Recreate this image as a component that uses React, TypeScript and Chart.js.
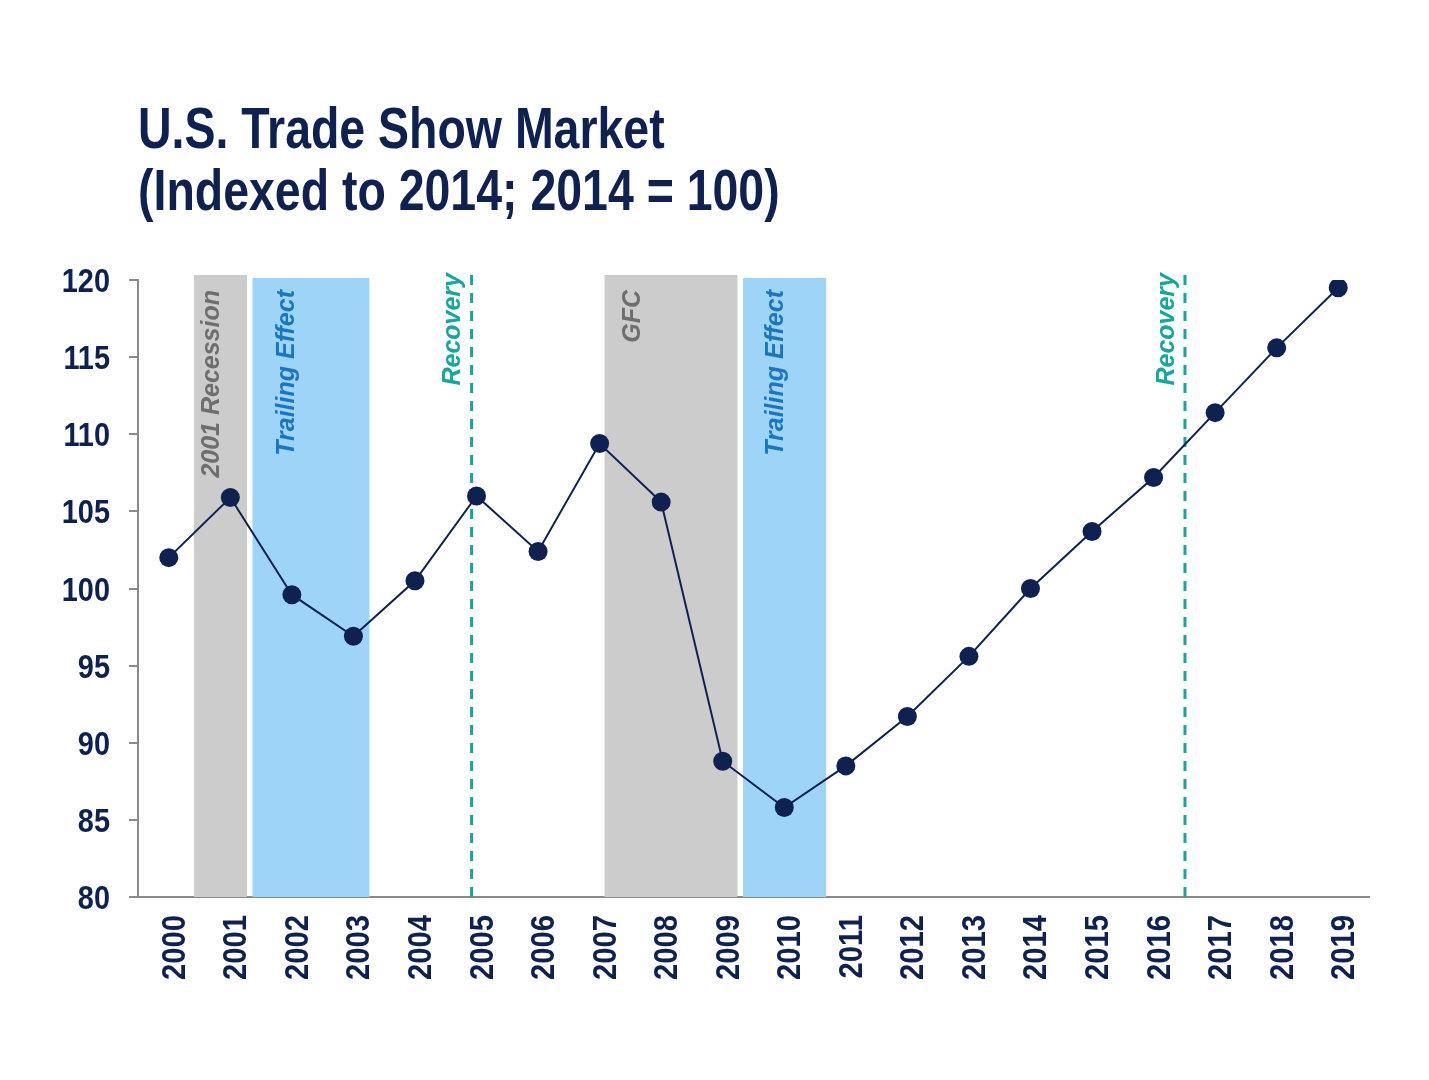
import React, { useEffect, useRef } from 'react';
import { Chart, registerables } from 'chart.js';

Chart.register(...registerables);

const years = ['2000', '2001', '2002', '2003', '2004', '2005', '2006', '2007', '2008', '2009',
    '2010', '2011', '2012', '2013', '2014', '2015', '2016', '2017', '2018', '2019'];
const indexValues = [102.0, 105.9, 99.6, 96.9, 100.5, 106.0, 102.4, 109.4, 105.6, 88.8,
    85.8, 88.5, 91.7, 95.6, 100.0, 103.7, 107.2, 111.4, 115.6, 119.5];

// shaded periods, in category units (0 = 2000)
const bandLabels = ['2001 Recession', 'Trailing Effect', 'GFC', 'Trailing Effect'];
const bandStarts = [0.41, 1.36, 7.08, 9.33];
const bandEnds = [1.27, 3.26, 9.24, 10.68];
const bandKinds = ['gray', 'blue', 'gray', 'blue'];
const recoveryAt = [4.92, 16.51];

const NAVY = '#0f2150';
const SANS = '"Liberation Sans", Arial, sans-serif';
const TICK_FONT = 'bold 34px ' + SANS;

// where the label sits inside its band (fraction of an x category step)
const labelShift = [0.29, 0.57, 0.47, 0.54];

const periodsPlugin = {
    id: 'periods',
    beforeDatasetsDraw(chart: any) {
        const { ctx, chartArea, scales } = chart;
        const x = scales.x;
        const bottom = chartArea.bottom;
        ctx.save();
        bandStarts.forEach((s, i) => {
            const x0 = x.getPixelForValue(s);
            const x1 = x.getPixelForValue(bandEnds[i]);
            const top = chartArea.top - (bandKinds[i] === 'gray' ? 5 : 2);
            ctx.fillStyle = bandKinds[i] === 'gray' ? '#cccccc' : '#9fd4f9';
            ctx.fillRect(x0, top, x1 - x0, bottom - top);
        });
        ctx.font = 'italic bold 25px ' + SANS;
        ctx.textAlign = 'right';
        ctx.textBaseline = 'middle';
        bandStarts.forEach((s, i) => {
            const lx = x.getPixelForValue(s + labelShift[i]);
            ctx.save();
            ctx.translate(lx, chartArea.top + 10);
            ctx.rotate(-Math.PI / 2);
            ctx.fillStyle = bandKinds[i] === 'gray' ? '#6e6e6e' : '#1b76c2';
            ctx.fillText(bandLabels[i], 0, 0);
            ctx.restore();
        });
        recoveryAt.forEach((r) => {
            const rx = x.getPixelForValue(r);
            ctx.save();
            ctx.strokeStyle = '#14a89a';
            ctx.lineWidth = 3;
            ctx.setLineDash([10, 8]);
            ctx.beginPath();
            ctx.moveTo(rx, chartArea.top - 5);
            ctx.lineTo(rx, bottom);
            ctx.stroke();
            ctx.restore();
            ctx.save();
            ctx.translate(rx - 18, chartArea.top - 7);
            ctx.rotate(-Math.PI / 2);
            ctx.fillStyle = '#14a89a';
            ctx.fillText('Recovery', 0, 0);
            ctx.restore();
        });
        ctx.restore();
    },
};

// condensed tick labels, placed from the scales' own ticks
const condensedTicksPlugin = {
    id: 'condensedTicks',
    afterDraw(chart: any) {
        const { ctx, chartArea, scales } = chart;
        ctx.save();
        ctx.font = TICK_FONT;
        ctx.fillStyle = NAVY;
        ctx.textBaseline = 'alphabetic';
        ctx.textAlign = 'right';
        scales.y.ticks.forEach((t: any, i: number) => {
            const py = scales.y.getPixelForTick(i);
            ctx.save();
            ctx.translate(110, py + 12);
            ctx.scale(0.85, 1);
            ctx.fillText(String(t.label), 0, 0);
            ctx.restore();
        });
        scales.x.ticks.forEach((t: any, i: number) => {
            const px = scales.x.getPixelForTick(i);
            ctx.save();
            ctx.translate(px + 16, chartArea.bottom + 18);
            ctx.rotate(-Math.PI / 2);
            ctx.scale(0.86, 1);
            ctx.fillText(String(t.label), 0, 0);
            ctx.restore();
        });
        ctx.restore();
    },
};

const TradeShowChart: React.FC = () => {
    const canvasRef = useRef<HTMLCanvasElement>(null);

    useEffect(() => {
        if (!canvasRef.current) return;
        const chart = new Chart(canvasRef.current, {
            type: 'line',
            data: {
                labels: years,
                datasets: [{
                    data: indexValues,
                    borderColor: NAVY,
                    backgroundColor: NAVY,
                    borderWidth: 2,
                    pointRadius: 9.5,
                    pointBackgroundColor: NAVY,
                    pointBorderWidth: 0,
                    tension: 0,
                }],
            },
            options: {
                responsive: false,
                animation: false,
                layout: { padding: { left: 0, right: 60, top: 280, bottom: 83 } },
                plugins: {
                    legend: { display: false },
                    tooltip: { enabled: false },
                    title: { display: false },
                },
                scales: {
                    x: {
                        offset: true,
                        grid: { display: false, drawTicks: false },
                        border: { color: '#8a8a8a', width: 2 },
                        ticks: { display: false, autoSkip: false },
                        afterFit(scale: any) { scale.height = 100; },
                    },
                    y: {
                        min: 80,
                        max: 120,
                        grid: { drawOnChartArea: false, drawTicks: true, tickLength: 9, color: '#8a8a8a', lineWidth: 2 },
                        border: { color: '#8a8a8a', width: 2 },
                        ticks: { display: false, stepSize: 5 },
                        afterFit(scale: any) { scale.width = 138; },
                    },
                },
            },
            plugins: [periodsPlugin, condensedTicksPlugin],
        });
        return () => chart.destroy();
    }, []);

    return <canvas ref={canvasRef} width={1429} height={1080} />;
};

export default function App() {
    return (
        <div style={{ position: 'absolute', left: 0, top: 0, width: 1429, height: 1080, background: '#fff' }}>
            <div style={{ position: 'absolute', left: 0, top: 0 }}>
                <TradeShowChart />
            </div>
            <div style={{
                position: 'absolute', left: 138, top: 97, fontFamily: SANS,
                fontWeight: 'bold', fontSize: 57, lineHeight: '62px', color: NAVY, whiteSpace: 'nowrap',
                transform: 'scaleX(0.815)', transformOrigin: 'left top',
            }}>
                <div>U.S. Trade Show Market</div>
                <div>(Indexed to 2014; 2014 = 100)</div>
            </div>
        </div>
    );
}
